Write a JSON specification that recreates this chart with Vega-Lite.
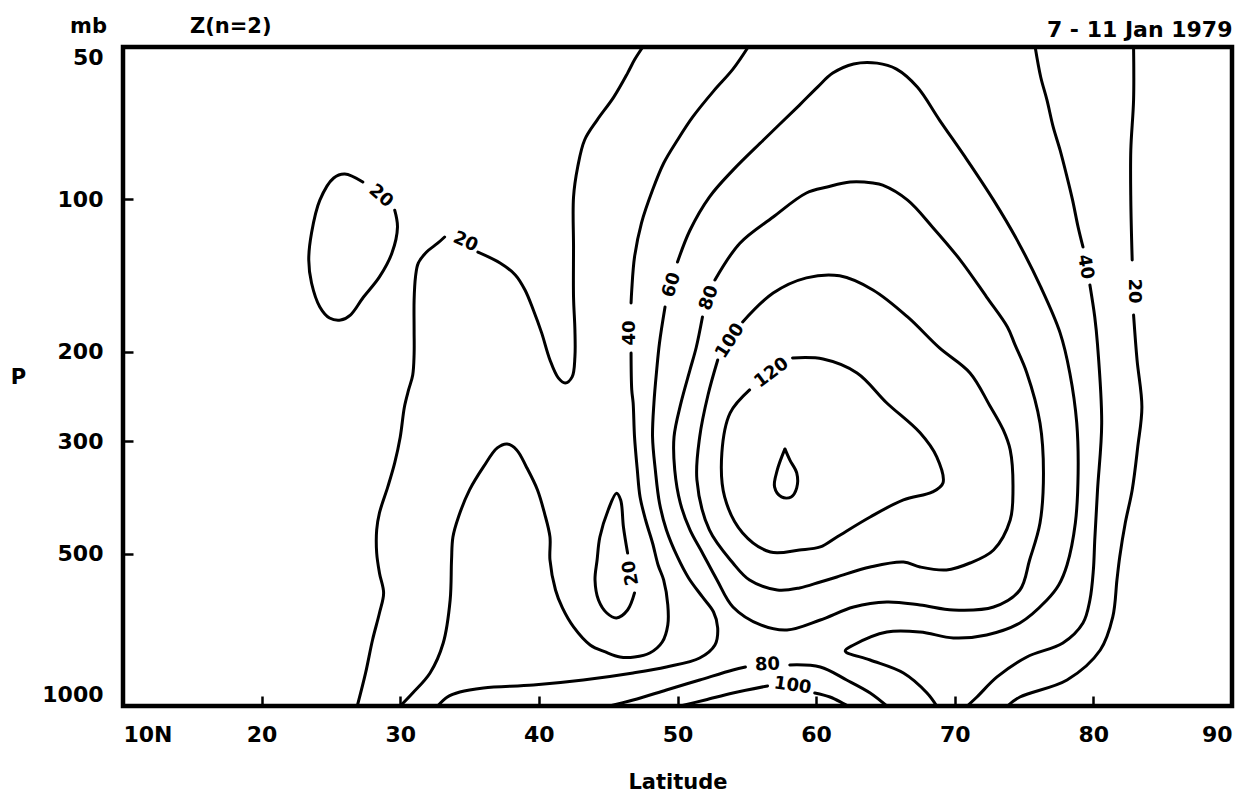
{
  "$schema": "https://vega.github.io/schema/vega-lite/v6.json",
  "width": 1109,
  "height": 659,
  "autosize": {"type": "none"},
  "padding": {"left": 123, "top": 47, "right": 20, "bottom": 86},
  "background": "white",
  "title": {"text": "Z(n=2)", "anchor": "start", "frame": "group", "dx": 67, "dy": 54, "offset": 15, "baseline": "alphabetic", "font": "DejaVu Sans", "fontSize": 21, "fontWeight": "bold", "color": "black"},
  "datasets": {
    "contours": [
      {"seg":"A20","level":20,"i":0,"lat":29.6,"p":105},
      {"seg":"A20","level":20,"i":1,"lat":29.8,"p":113.4},
      {"seg":"A20","level":20,"i":2,"lat":29.4,"p":127.6},
      {"seg":"A20","level":20,"i":3,"lat":28.5,"p":142.2},
      {"seg":"A20","level":20,"i":4,"lat":27.3,"p":156.5},
      {"seg":"A20","level":20,"i":5,"lat":26.4,"p":169.1},
      {"seg":"A20","level":20,"i":6,"lat":25.7,"p":173},
      {"seg":"A20","level":20,"i":7,"lat":24.9,"p":171.4},
      {"seg":"A20","level":20,"i":8,"lat":24.2,"p":163},
      {"seg":"A20","level":20,"i":9,"lat":23.6,"p":146.2},
      {"seg":"A20","level":20,"i":10,"lat":23.4,"p":131.7},
      {"seg":"A20","level":20,"i":11,"lat":23.6,"p":116.5},
      {"seg":"A20","level":20,"i":12,"lat":24.2,"p":100.3},
      {"seg":"A20","level":20,"i":13,"lat":25.2,"p":90.7},
      {"seg":"A20","level":20,"i":14,"lat":26.0,"p":89.1},
      {"seg":"A20","level":20,"i":15,"lat":27.3,"p":92.4},

      {"seg":"B20a","level":20,"i":0,"lat":26.9,"p":1000},
      {"seg":"B20a","level":20,"i":1,"lat":27.5,"p":860.5},
      {"seg":"B20a","level":20,"i":2,"lat":28.0,"p":740.7},
      {"seg":"B20a","level":20,"i":3,"lat":28.5,"p":655.2},
      {"seg":"B20a","level":20,"i":4,"lat":28.8,"p":598.2},
      {"seg":"B20a","level":20,"i":5,"lat":28.5,"p":546.2},
      {"seg":"B20a","level":20,"i":6,"lat":28.3,"p":498.8},
      {"seg":"B20a","level":20,"i":7,"lat":28.3,"p":449.2},
      {"seg":"B20a","level":20,"i":8,"lat":28.5,"p":415.8},
      {"seg":"B20a","level":20,"i":9,"lat":29.1,"p":369.4},
      {"seg":"B20a","level":20,"i":10,"lat":29.6,"p":331.2},
      {"seg":"B20a","level":20,"i":11,"lat":30.0,"p":294.3},
      {"seg":"B20a","level":20,"i":12,"lat":30.3,"p":256.8},
      {"seg":"B20a","level":20,"i":13,"lat":30.6,"p":237.7},
      {"seg":"B20a","level":20,"i":14,"lat":30.9,"p":222},
      {"seg":"B20a","level":20,"i":15,"lat":31.0,"p":201.8},
      {"seg":"B20a","level":20,"i":16,"lat":31.0,"p":181},
      {"seg":"B20a","level":20,"i":17,"lat":31.0,"p":158},
      {"seg":"B20a","level":20,"i":18,"lat":31.1,"p":142.2},
      {"seg":"B20a","level":20,"i":19,"lat":31.3,"p":133.5},
      {"seg":"B20a","level":20,"i":20,"lat":31.9,"p":127},
      {"seg":"B20a","level":20,"i":21,"lat":32.7,"p":122},
      {"seg":"B20a","level":20,"i":22,"lat":33.2,"p":118.6},

      {"seg":"B20b","level":20,"i":0,"lat":35.6,"p":127},
      {"seg":"B20b","level":20,"i":1,"lat":37.2,"p":133.5},
      {"seg":"B20b","level":20,"i":2,"lat":38.3,"p":140.9},
      {"seg":"B20b","level":20,"i":3,"lat":39.0,"p":150.9},
      {"seg":"B20b","level":20,"i":4,"lat":39.6,"p":165.3},
      {"seg":"B20b","level":20,"i":5,"lat":40.2,"p":183.4},
      {"seg":"B20b","level":20,"i":6,"lat":40.8,"p":207.4},
      {"seg":"B20b","level":20,"i":7,"lat":41.4,"p":225},
      {"seg":"B20b","level":20,"i":8,"lat":41.9,"p":230.3},
      {"seg":"B20b","level":20,"i":9,"lat":42.4,"p":224},
      {"seg":"B20b","level":20,"i":10,"lat":42.6,"p":204.6},
      {"seg":"B20b","level":20,"i":11,"lat":42.6,"p":181},
      {"seg":"B20b","level":20,"i":12,"lat":42.5,"p":155.8},
      {"seg":"B20b","level":20,"i":13,"lat":42.5,"p":124.1},
      {"seg":"B20b","level":20,"i":14,"lat":42.5,"p":98.9},
      {"seg":"B20b","level":20,"i":15,"lat":42.8,"p":86.3},
      {"seg":"B20b","level":20,"i":16,"lat":43.3,"p":76.3},
      {"seg":"B20b","level":20,"i":17,"lat":44.2,"p":69.7},
      {"seg":"B20b","level":20,"i":18,"lat":45.4,"p":62.8},
      {"seg":"B20b","level":20,"i":19,"lat":46.4,"p":56.3},
      {"seg":"B20b","level":20,"i":20,"lat":46.9,"p":53},
      {"seg":"B20b","level":20,"i":21,"lat":47.5,"p":50},

      {"seg":"C40a","level":40,"i":0,"lat":55.1,"p":50},
      {"seg":"C40a","level":40,"i":1,"lat":54.0,"p":55.3},
      {"seg":"C40a","level":40,"i":2,"lat":52.6,"p":61.1},
      {"seg":"C40a","level":40,"i":3,"lat":51.1,"p":68.7},
      {"seg":"C40a","level":40,"i":4,"lat":50.0,"p":76.3},
      {"seg":"C40a","level":40,"i":5,"lat":49.0,"p":84.8},
      {"seg":"C40a","level":40,"i":6,"lat":48.2,"p":95.8},
      {"seg":"C40a","level":40,"i":7,"lat":47.4,"p":111.3},
      {"seg":"C40a","level":40,"i":8,"lat":46.9,"p":129.9},
      {"seg":"C40a","level":40,"i":9,"lat":46.7,"p":150.9},
      {"seg":"C40a","level":40,"i":10,"lat":46.65,"p":160.1},

      {"seg":"C40b","level":40,"i":0,"lat":46.65,"p":200.9},
      {"seg":"C40b","level":40,"i":1,"lat":46.7,"p":237.7},
      {"seg":"C40b","level":40,"i":2,"lat":46.8,"p":252.2},
      {"seg":"C40b","level":40,"i":3,"lat":46.9,"p":294.3},
      {"seg":"C40b","level":40,"i":4,"lat":47.1,"p":341.9},
      {"seg":"C40b","level":40,"i":5,"lat":47.3,"p":386.6},
      {"seg":"C40b","level":40,"i":6,"lat":47.7,"p":429.3},
      {"seg":"C40b","level":40,"i":7,"lat":48.2,"p":476.6},
      {"seg":"C40b","level":40,"i":8,"lat":48.6,"p":526.7},
      {"seg":"C40b","level":40,"i":9,"lat":49.0,"p":563.9},
      {"seg":"C40b","level":40,"i":10,"lat":49.3,"p":631.7},
      {"seg":"C40b","level":40,"i":11,"lat":49.3,"p":691.8},
      {"seg":"C40b","level":40,"i":12,"lat":48.9,"p":747.5},
      {"seg":"C40b","level":40,"i":13,"lat":48.0,"p":785.8},
      {"seg":"C40b","level":40,"i":14,"lat":46.9,"p":800.2},
      {"seg":"C40b","level":40,"i":15,"lat":45.85,"p":800.2},
      {"seg":"C40b","level":40,"i":16,"lat":44.8,"p":782.2},
      {"seg":"C40b","level":40,"i":17,"lat":43.7,"p":757.7},
      {"seg":"C40b","level":40,"i":18,"lat":42.5,"p":698.1},
      {"seg":"C40b","level":40,"i":19,"lat":41.7,"p":640.4},
      {"seg":"C40b","level":40,"i":20,"lat":41.2,"p":590.1},
      {"seg":"C40b","level":40,"i":21,"lat":40.8,"p":514.9},
      {"seg":"C40b","level":40,"i":22,"lat":40.8,"p":463.7},
      {"seg":"C40b","level":40,"i":23,"lat":40.4,"p":415.8},
      {"seg":"C40b","level":40,"i":24,"lat":39.9,"p":374.5},
      {"seg":"C40b","level":40,"i":25,"lat":39.1,"p":337.3},
      {"seg":"C40b","level":40,"i":26,"lat":38.4,"p":312.2},
      {"seg":"C40b","level":40,"i":27,"lat":37.7,"p":303.8},
      {"seg":"C40b","level":40,"i":28,"lat":37.0,"p":309.4},
      {"seg":"C40b","level":40,"i":29,"lat":36.0,"p":337.3},
      {"seg":"C40b","level":40,"i":30,"lat":35.0,"p":374.5},
      {"seg":"C40b","level":40,"i":31,"lat":34.2,"p":423.4},
      {"seg":"C40b","level":40,"i":32,"lat":33.8,"p":463.7},
      {"seg":"C40b","level":40,"i":33,"lat":33.7,"p":514.9},
      {"seg":"C40b","level":40,"i":34,"lat":33.6,"p":617.6},
      {"seg":"C40b","level":40,"i":35,"lat":33.1,"p":750.9},
      {"seg":"C40b","level":40,"i":36,"lat":32.15,"p":860.5},
      {"seg":"C40b","level":40,"i":37,"lat":30.9,"p":942.5},
      {"seg":"C40b","level":40,"i":38,"lat":30.0,"p":1000},

      {"seg":"D60a","level":60,"i":0,"lat":50.0,"p":132.9},
      {"seg":"D60a","level":60,"i":1,"lat":50.9,"p":115},
      {"seg":"D60a","level":60,"i":2,"lat":52.3,"p":98.9},
      {"seg":"D60a","level":60,"i":3,"lat":54.0,"p":87.5},
      {"seg":"D60a","level":60,"i":4,"lat":56.2,"p":76.3},
      {"seg":"D60a","level":60,"i":5,"lat":58.8,"p":65.1},
      {"seg":"D60a","level":60,"i":6,"lat":60.1,"p":60},
      {"seg":"D60a","level":60,"i":7,"lat":61.2,"p":56.3},
      {"seg":"D60a","level":60,"i":8,"lat":62.7,"p":54},
      {"seg":"D60a","level":60,"i":9,"lat":64.4,"p":53.8},
      {"seg":"D60a","level":60,"i":10,"lat":65.8,"p":55.3},
      {"seg":"D60a","level":60,"i":11,"lat":67.3,"p":60},
      {"seg":"D60a","level":60,"i":12,"lat":68.9,"p":69.7},
      {"seg":"D60a","level":60,"i":13,"lat":70.9,"p":83.6},
      {"seg":"D60a","level":60,"i":14,"lat":72.8,"p":100.3},
      {"seg":"D60a","level":60,"i":15,"lat":74.5,"p":120.3},
      {"seg":"D60a","level":60,"i":16,"lat":76.2,"p":148.8},
      {"seg":"D60a","level":60,"i":17,"lat":77.6,"p":183.4},
      {"seg":"D60a","level":60,"i":18,"lat":78.3,"p":220},
      {"seg":"D60a","level":60,"i":19,"lat":78.8,"p":276.2},
      {"seg":"D60a","level":60,"i":20,"lat":78.9,"p":346.7},
      {"seg":"D60a","level":60,"i":21,"lat":78.7,"p":435.2},
      {"seg":"D60a","level":60,"i":22,"lat":78.1,"p":526.7},
      {"seg":"D60a","level":60,"i":23,"lat":77.5,"p":576.9},
      {"seg":"D60a","level":60,"i":24,"lat":76.65,"p":617.6},
      {"seg":"D60a","level":60,"i":25,"lat":74.7,"p":685.6},
      {"seg":"D60a","level":60,"i":26,"lat":72.3,"p":724},
      {"seg":"D60a","level":60,"i":27,"lat":69.9,"p":734},
      {"seg":"D60a","level":60,"i":28,"lat":67.5,"p":714.2},
      {"seg":"D60a","level":60,"i":29,"lat":65.1,"p":714.2},
      {"seg":"D60a","level":60,"i":30,"lat":62.7,"p":757.7},
      {"seg":"D60a","level":60,"i":31,"lat":62.1,"p":778.6},
      {"seg":"D60a","level":60,"i":32,"lat":63.9,"p":811.2},
      {"seg":"D60a","level":60,"i":33,"lat":66.3,"p":860.5},
      {"seg":"D60a","level":60,"i":34,"lat":68.0,"p":942.5},
      {"seg":"D60a","level":60,"i":35,"lat":68.7,"p":1000},

      {"seg":"D60b","level":60,"i":0,"lat":49.1,"p":163},
      {"seg":"D60b","level":60,"i":1,"lat":48.7,"p":192},
      {"seg":"D60b","level":60,"i":2,"lat":48.5,"p":217},
      {"seg":"D60b","level":60,"i":3,"lat":48.3,"p":252.2},
      {"seg":"D60b","level":60,"i":4,"lat":48.2,"p":294.3},
      {"seg":"D60b","level":60,"i":5,"lat":48.4,"p":341.9},
      {"seg":"D60b","level":60,"i":6,"lat":48.7,"p":397.3},
      {"seg":"D60b","level":60,"i":7,"lat":49.2,"p":449.2},
      {"seg":"D60b","level":60,"i":8,"lat":50.0,"p":507.9},
      {"seg":"D60b","level":60,"i":9,"lat":50.8,"p":558.8},
      {"seg":"D60b","level":60,"i":10,"lat":51.8,"p":609.2},
      {"seg":"D60b","level":60,"i":11,"lat":52.6,"p":652.2},
      {"seg":"D60b","level":60,"i":12,"lat":52.9,"p":701.3},
      {"seg":"D60b","level":60,"i":13,"lat":52.7,"p":757.7},
      {"seg":"D60b","level":60,"i":14,"lat":51.6,"p":803.9},
      {"seg":"D60b","level":60,"i":15,"lat":49.2,"p":837.4},
      {"seg":"D60b","level":60,"i":16,"lat":46.8,"p":860.5},
      {"seg":"D60b","level":60,"i":17,"lat":43.2,"p":888.4},
      {"seg":"D60b","level":60,"i":18,"lat":39.6,"p":908.8},
      {"seg":"D60b","level":60,"i":19,"lat":36.0,"p":921.3},
      {"seg":"D60b","level":60,"i":20,"lat":34.3,"p":938.2},
      {"seg":"D60b","level":60,"i":21,"lat":33.4,"p":959.8},
      {"seg":"D60b","level":60,"i":22,"lat":32.7,"p":1000},

      {"seg":"E80","level":80,"i":0,"lat":52.7,"p":144.2},
      {"seg":"E80","level":80,"i":1,"lat":54.5,"p":122},
      {"seg":"E80","level":80,"i":2,"lat":56.9,"p":108.3},
      {"seg":"E80","level":80,"i":3,"lat":59.3,"p":97.1},
      {"seg":"E80","level":80,"i":4,"lat":60.8,"p":94.5},
      {"seg":"E80","level":80,"i":5,"lat":62.45,"p":92.4},
      {"seg":"E80","level":80,"i":6,"lat":64.1,"p":92.8},
      {"seg":"E80","level":80,"i":7,"lat":64.8,"p":93.7},
      {"seg":"E80","level":80,"i":8,"lat":66.6,"p":100.3},
      {"seg":"E80","level":80,"i":9,"lat":68.4,"p":113.4},
      {"seg":"E80","level":80,"i":10,"lat":70.4,"p":131.7},
      {"seg":"E80","level":80,"i":11,"lat":72.3,"p":155.8},
      {"seg":"E80","level":80,"i":12,"lat":73.8,"p":178.5},
      {"seg":"E80","level":80,"i":13,"lat":74.35,"p":193.7},
      {"seg":"E80","level":80,"i":14,"lat":75.2,"p":220},
      {"seg":"E80","level":80,"i":15,"lat":76.15,"p":276.2},
      {"seg":"E80","level":80,"i":16,"lat":76.4,"p":346.7},
      {"seg":"E80","level":80,"i":17,"lat":76.15,"p":435.2},
      {"seg":"E80","level":80,"i":18,"lat":75.4,"p":514.9},
      {"seg":"E80","level":80,"i":19,"lat":74.7,"p":590.1},
      {"seg":"E80","level":80,"i":20,"lat":72.8,"p":637.5},
      {"seg":"E80","level":80,"i":21,"lat":69.9,"p":646.3},
      {"seg":"E80","level":80,"i":22,"lat":67.5,"p":631.7},
      {"seg":"E80","level":80,"i":23,"lat":65.1,"p":623.2},
      {"seg":"E80","level":80,"i":24,"lat":62.7,"p":637.5},
      {"seg":"E80","level":80,"i":25,"lat":60.3,"p":676.3},
      {"seg":"E80","level":80,"i":26,"lat":57.9,"p":707.8},
      {"seg":"E80","level":80,"i":27,"lat":56.0,"p":691.8},
      {"seg":"E80","level":80,"i":28,"lat":54.0,"p":637.5},
      {"seg":"E80","level":80,"i":29,"lat":52.85,"p":563.9},
      {"seg":"E80","level":80,"i":30,"lat":51.8,"p":498.8},
      {"seg":"E80","level":80,"i":31,"lat":50.9,"p":449.2},
      {"seg":"E80","level":80,"i":32,"lat":50.2,"p":397.3},
      {"seg":"E80","level":80,"i":33,"lat":49.8,"p":341.9},
      {"seg":"E80","level":80,"i":34,"lat":49.75,"p":294.3},
      {"seg":"E80","level":80,"i":35,"lat":50.25,"p":252.2},
      {"seg":"E80","level":80,"i":36,"lat":50.9,"p":217},
      {"seg":"E80","level":80,"i":37,"lat":51.35,"p":196},
      {"seg":"E80","level":80,"i":38,"lat":51.8,"p":170.6},

      {"seg":"F100","level":100,"i":0,"lat":54.7,"p":174.5},
      {"seg":"F100","level":100,"i":1,"lat":56.9,"p":153},
      {"seg":"F100","level":100,"i":2,"lat":59.3,"p":142.8},
      {"seg":"F100","level":100,"i":3,"lat":61.7,"p":141.5},
      {"seg":"F100","level":100,"i":4,"lat":64.1,"p":150.9},
      {"seg":"F100","level":100,"i":5,"lat":66.6,"p":170.6},
      {"seg":"F100","level":100,"i":6,"lat":68.9,"p":196.4},
      {"seg":"F100","level":100,"i":7,"lat":71.1,"p":220},
      {"seg":"F100","level":100,"i":8,"lat":72.5,"p":254.5},
      {"seg":"F100","level":100,"i":9,"lat":73.5,"p":285.1},
      {"seg":"F100","level":100,"i":10,"lat":74.0,"p":312.2},
      {"seg":"F100","level":100,"i":11,"lat":74.2,"p":374.5},
      {"seg":"F100","level":100,"i":12,"lat":74.0,"p":429.3},
      {"seg":"F100","level":100,"i":13,"lat":72.8,"p":492},
      {"seg":"F100","level":100,"i":14,"lat":71.1,"p":522},
      {"seg":"F100","level":100,"i":15,"lat":69.4,"p":538.8},
      {"seg":"F100","level":100,"i":16,"lat":67.5,"p":531.5},
      {"seg":"F100","level":100,"i":17,"lat":66.3,"p":519.6},
      {"seg":"F100","level":100,"i":18,"lat":63.9,"p":531.5},
      {"seg":"F100","level":100,"i":19,"lat":61.5,"p":556.2},
      {"seg":"F100","level":100,"i":20,"lat":60.3,"p":569},
      {"seg":"F100","level":100,"i":21,"lat":58.8,"p":584.8},
      {"seg":"F100","level":100,"i":22,"lat":57.2,"p":590.1},
      {"seg":"F100","level":100,"i":23,"lat":55.2,"p":563.9},
      {"seg":"F100","level":100,"i":24,"lat":54.0,"p":522},
      {"seg":"F100","level":100,"i":25,"lat":52.3,"p":449.2},
      {"seg":"F100","level":100,"i":26,"lat":51.4,"p":357.8},
      {"seg":"F100","level":100,"i":27,"lat":51.6,"p":294.3},
      {"seg":"F100","level":100,"i":28,"lat":52.2,"p":243.2},
      {"seg":"F100","level":100,"i":29,"lat":52.9,"p":207.4},

      {"seg":"G120","level":120,"i":0,"lat":58.3,"p":205.5},
      {"seg":"G120","level":120,"i":1,"lat":60.5,"p":206.5},
      {"seg":"G120","level":120,"i":2,"lat":62.95,"p":220},
      {"seg":"G120","level":120,"i":3,"lat":65.1,"p":252.2},
      {"seg":"G120","level":120,"i":4,"lat":67.5,"p":288.9},
      {"seg":"G120","level":120,"i":5,"lat":68.7,"p":322.3},
      {"seg":"G120","level":120,"i":6,"lat":69.15,"p":362.8},
      {"seg":"G120","level":120,"i":7,"lat":68.4,"p":377.9},
      {"seg":"G120","level":120,"i":8,"lat":66.3,"p":391.9},
      {"seg":"G120","level":120,"i":9,"lat":63.9,"p":423.4},
      {"seg":"G120","level":120,"i":10,"lat":61.5,"p":463.7},
      {"seg":"G120","level":120,"i":11,"lat":60.3,"p":485.3},
      {"seg":"G120","level":120,"i":12,"lat":58.8,"p":492},
      {"seg":"G120","level":120,"i":13,"lat":56.7,"p":496.5},
      {"seg":"G120","level":120,"i":14,"lat":54.7,"p":455.4},
      {"seg":"G120","level":120,"i":15,"lat":53.4,"p":386.6},
      {"seg":"G120","level":120,"i":16,"lat":53.2,"p":316.5},
      {"seg":"G120","level":120,"i":17,"lat":53.8,"p":263.9},
      {"seg":"G120","level":120,"i":18,"lat":55.2,"p":237.7},

      {"seg":"T140","level":140,"i":0,"lat":57.75,"p":310.8},
      {"seg":"T140","level":140,"i":1,"lat":58.1,"p":326.7},
      {"seg":"T140","level":140,"i":2,"lat":58.6,"p":346.7},
      {"seg":"T140","level":140,"i":3,"lat":58.6,"p":371.1},
      {"seg":"T140","level":140,"i":4,"lat":58.2,"p":386.6},
      {"seg":"T140","level":140,"i":5,"lat":57.5,"p":386.6},
      {"seg":"T140","level":140,"i":6,"lat":57.0,"p":369.4},
      {"seg":"T140","level":140,"i":7,"lat":57.2,"p":341.9},
      {"seg":"T140","level":140,"i":8,"lat":57.75,"p":310.8},

      {"seg":"H20","level":20,"i":0,"lat":46.9,"p":598.2},
      {"seg":"H20","level":20,"i":1,"lat":46.4,"p":646.3},
      {"seg":"H20","level":20,"i":2,"lat":45.6,"p":670.2},
      {"seg":"H20","level":20,"i":3,"lat":44.9,"p":655.2},
      {"seg":"H20","level":20,"i":4,"lat":44.3,"p":617.6},
      {"seg":"H20","level":20,"i":5,"lat":44.05,"p":563.9},
      {"seg":"H20","level":20,"i":6,"lat":44.2,"p":514.9},
      {"seg":"H20","level":20,"i":7,"lat":44.4,"p":463.7},
      {"seg":"H20","level":20,"i":8,"lat":45.0,"p":410.2},
      {"seg":"H20","level":20,"i":9,"lat":45.6,"p":380},
      {"seg":"H20","level":20,"i":10,"lat":45.9,"p":391.9},
      {"seg":"H20","level":20,"i":11,"lat":46.1,"p":443.1},
      {"seg":"H20","level":20,"i":12,"lat":46.4,"p":498.8},

      {"seg":"K40a","level":40,"i":0,"lat":75.8,"p":50},
      {"seg":"K40a","level":40,"i":1,"lat":76.2,"p":57.3},
      {"seg":"K40a","level":40,"i":2,"lat":76.65,"p":63.6},
      {"seg":"K40a","level":40,"i":3,"lat":77.1,"p":71.9},
      {"seg":"K40a","level":40,"i":4,"lat":77.6,"p":79.9},
      {"seg":"K40a","level":40,"i":5,"lat":78.1,"p":90.3},
      {"seg":"K40a","level":40,"i":6,"lat":78.5,"p":100.3},
      {"seg":"K40a","level":40,"i":7,"lat":78.9,"p":113.4},
      {"seg":"K40a","level":40,"i":8,"lat":79.25,"p":124.1},

      {"seg":"K40b","level":40,"i":0,"lat":79.75,"p":147.5},
      {"seg":"K40b","level":40,"i":1,"lat":80.1,"p":170.6},
      {"seg":"K40b","level":40,"i":2,"lat":80.3,"p":193.7},
      {"seg":"K40b","level":40,"i":3,"lat":80.6,"p":276.2},
      {"seg":"K40b","level":40,"i":4,"lat":80.3,"p":374.5},
      {"seg":"K40b","level":40,"i":5,"lat":80.1,"p":470.1},
      {"seg":"K40b","level":40,"i":6,"lat":80.0,"p":538.8},
      {"seg":"K40b","level":40,"i":7,"lat":79.75,"p":617.6},
      {"seg":"K40b","level":40,"i":8,"lat":79.25,"p":685.6},
      {"seg":"K40b","level":40,"i":9,"lat":77.8,"p":750.9},
      {"seg":"K40b","level":40,"i":10,"lat":75.2,"p":800.2},
      {"seg":"K40b","level":40,"i":11,"lat":73.05,"p":876.3},
      {"seg":"K40b","level":40,"i":12,"lat":71.6,"p":959.8},
      {"seg":"K40b","level":40,"i":13,"lat":70.9,"p":1000},

      {"seg":"M20a","level":20,"i":0,"lat":82.9,"p":50},
      {"seg":"M20a","level":20,"i":1,"lat":82.9,"p":63.6},
      {"seg":"M20a","level":20,"i":2,"lat":82.7,"p":79.9},
      {"seg":"M20a","level":20,"i":3,"lat":82.7,"p":100.3},
      {"seg":"M20a","level":20,"i":4,"lat":82.8,"p":131.7},

      {"seg":"M20b","level":20,"i":0,"lat":82.9,"p":169.1},
      {"seg":"M20b","level":20,"i":1,"lat":83.15,"p":207.4},
      {"seg":"M20b","level":20,"i":2,"lat":83.5,"p":256.8},
      {"seg":"M20b","level":20,"i":3,"lat":83.2,"p":308},
      {"seg":"M20b","level":20,"i":4,"lat":82.8,"p":374.5},
      {"seg":"M20b","level":20,"i":5,"lat":82.3,"p":435.2},
      {"seg":"M20b","level":20,"i":6,"lat":81.9,"p":507.9},
      {"seg":"M20b","level":20,"i":7,"lat":81.7,"p":563.9},
      {"seg":"M20b","level":20,"i":8,"lat":81.4,"p":667.1},
      {"seg":"M20b","level":20,"i":9,"lat":80.5,"p":775.2},
      {"seg":"M20b","level":20,"i":10,"lat":78.1,"p":888.4},
      {"seg":"M20b","level":20,"i":11,"lat":74.7,"p":959.8},
      {"seg":"M20b","level":20,"i":12,"lat":73.8,"p":1000},

      {"seg":"N80a","level":80,"i":0,"lat":45.1,"p":1000},
      {"seg":"N80a","level":80,"i":1,"lat":46.8,"p":973},
      {"seg":"N80a","level":80,"i":2,"lat":49.2,"p":929.7},
      {"seg":"N80a","level":80,"i":3,"lat":51.6,"p":888.4},
      {"seg":"N80a","level":80,"i":4,"lat":54.0,"p":848.9},
      {"seg":"N80a","level":80,"i":5,"lat":54.9,"p":837.4},

      {"seg":"N80b","level":80,"i":0,"lat":58.1,"p":829.8},
      {"seg":"N80b","level":80,"i":1,"lat":60.3,"p":837.4},
      {"seg":"N80b","level":80,"i":2,"lat":62.2,"p":888.4},
      {"seg":"N80b","level":80,"i":3,"lat":63.9,"p":942.5},
      {"seg":"N80b","level":80,"i":4,"lat":65.1,"p":1000},

      {"seg":"Q100a","level":100,"i":0,"lat":50.2,"p":1000},
      {"seg":"Q100a","level":100,"i":1,"lat":52.0,"p":973},
      {"seg":"Q100a","level":100,"i":2,"lat":54.0,"p":942.5},
      {"seg":"Q100a","level":100,"i":3,"lat":56.5,"p":912.9},

      {"seg":"Q100b","level":100,"i":0,"lat":59.9,"p":942.5},
      {"seg":"Q100b","level":100,"i":1,"lat":61.0,"p":959.8},
      {"seg":"Q100b","level":100,"i":2,"lat":61.9,"p":986.3},
      {"seg":"Q100b","level":100,"i":3,"lat":62.3,"p":1000}
    ]
  },
  "encoding": {
    "x": {"field": "lat", "type": "quantitative", "scale": {"domain": [10, 90], "nice": false, "zero": false}, "axis": null},
    "y": {"field": "p", "type": "quantitative", "scale": {"type": "log", "domain": [50, 1000], "nice": false, "reverse": true}, "axis": null}
  },
  "layer": [
    {
      "data": {"name": "contours"},
      "mark": {"type": "line", "color": "black", "strokeWidth": 3, "interpolate": "catmull-rom", "strokeCap": "round", "strokeJoin": "round", "clip": true},
      "encoding": {
        "x": {"field": "lat", "type": "quantitative", "scale": {"domain": [10, 90], "nice": false, "zero": false},
              "axis": {"orient": "bottom", "values": [10, 20, 30, 40, 50, 60, 70, 80, 90], "labelExpr": "datum.value == 10 ? '10N' : datum.label", "labelFlush": true, "labelPadding": 28, "title": "Latitude", "titleX": 554.5, "titleY": 82, "titleBaseline": "alphabetic", "titleAlign": "center"}},
        "y": {"field": "p", "type": "quantitative", "scale": {"type": "log", "domain": [50, 1000], "nice": false, "reverse": true},
              "axis": {"orient": "left", "values": [50, 100, 200, 300, 500, 1000], "labelFlush": true, "labelPadding": 30, "format": "d", "title": "P", "titleAngle": 0, "titleX": -105, "titleY": 330, "titleAlign": "center", "titleBaseline": "middle"}},
        "detail": {"field": "seg", "type": "nominal"},
        "order": {"field": "i", "type": "quantitative"}
      }
    },
    {
      "data": {"values": [{"lab": "20", "lat": 28.6, "p": 98.5}]},
      "mark": {"type": "text", "angle": 41},
      "encoding": {
        "x": {"field": "lat", "type": "quantitative", "scale": {"domain": [10, 90], "nice": false, "zero": false},
              "axis": {"orient": "top", "labels": false, "ticks": false, "title": "7 - 11 Jan 1979", "titleFontSize": 22, "titleX": 1109, "titleY": -11, "titleAlign": "right", "titleBaseline": "alphabetic"}},
        "y": {"field": "p", "type": "quantitative", "scale": {"type": "log", "domain": [50, 1000], "nice": false, "reverse": true},
              "axis": {"orient": "right", "labels": false, "ticks": false, "title": "mb", "titleAngle": 0, "titleX": -1144, "titleY": -15, "titleAlign": "center", "titleBaseline": "alphabetic"}},
        "text": {"field": "lab", "type": "nominal"}
      }
    },
    {"data": {"values": [{"lab": "20", "lat": 34.7, "p": 121.4}]}, "mark": {"type": "text", "angle": 24}, "encoding": {"text": {"field": "lab", "type": "nominal"}}},
    {"data": {"values": [{"lab": "40", "lat": 46.6, "p": 183.4}]}, "mark": {"type": "text", "angle": -90}, "encoding": {"text": {"field": "lab", "type": "nominal"}}},
    {"data": {"values": [{"lab": "60", "lat": 49.6, "p": 147.5}]}, "mark": {"type": "text", "angle": -73}, "encoding": {"text": {"field": "lab", "type": "nominal"}}},
    {"data": {"values": [{"lab": "80", "lat": 52.3, "p": 156.5}]}, "mark": {"type": "text", "angle": -70}, "encoding": {"text": {"field": "lab", "type": "nominal"}}},
    {"data": {"values": [{"lab": "100", "lat": 53.8, "p": 190.3}]}, "mark": {"type": "text", "angle": -57}, "encoding": {"text": {"field": "lab", "type": "nominal"}}},
    {"data": {"values": [{"lab": "120", "lat": 56.8, "p": 220}]}, "mark": {"type": "text", "angle": -37}, "encoding": {"text": {"field": "lab", "type": "nominal"}}},
    {"data": {"values": [{"lab": "20", "lat": 46.65, "p": 546.2}]}, "mark": {"type": "text", "angle": -100}, "encoding": {"text": {"field": "lab", "type": "nominal"}}},
    {"data": {"values": [{"lab": "40", "lat": 79.4, "p": 135.9}]}, "mark": {"type": "text", "angle": 80}, "encoding": {"text": {"field": "lab", "type": "nominal"}}},
    {"data": {"values": [{"lab": "20", "lat": 82.9, "p": 151.6}]}, "mark": {"type": "text", "angle": 90}, "encoding": {"text": {"field": "lab", "type": "nominal"}}},
    {"data": {"values": [{"lab": "80", "lat": 56.5, "p": 829.8}]}, "mark": {"type": "text", "angle": -3}, "encoding": {"text": {"field": "lab", "type": "nominal"}}},
    {"data": {"values": [{"lab": "100", "lat": 58.3, "p": 912.9}]}, "mark": {"type": "text", "angle": 8}, "encoding": {"text": {"field": "lab", "type": "nominal"}}}
  ],
  "resolve": {"axis": {"x": "independent", "y": "independent"}},
  "config": {
    "view": {"stroke": "black", "strokeWidth": 4.5},
    "axis": {
      "labelFont": "DejaVu Sans", "labelFontSize": 22, "labelFontWeight": "bold", "labelColor": "black",
      "titleFont": "DejaVu Sans", "titleFontSize": 21, "titleFontWeight": "bold", "titleColor": "black",
      "tickColor": "black", "tickWidth": 2.5, "tickSize": -10, "domain": false, "grid": false
    },
    "text": {"font": "DejaVu Sans", "fontSize": 18, "fontWeight": "bold", "color": "black", "align": "center", "baseline": "middle"}
  }
}
